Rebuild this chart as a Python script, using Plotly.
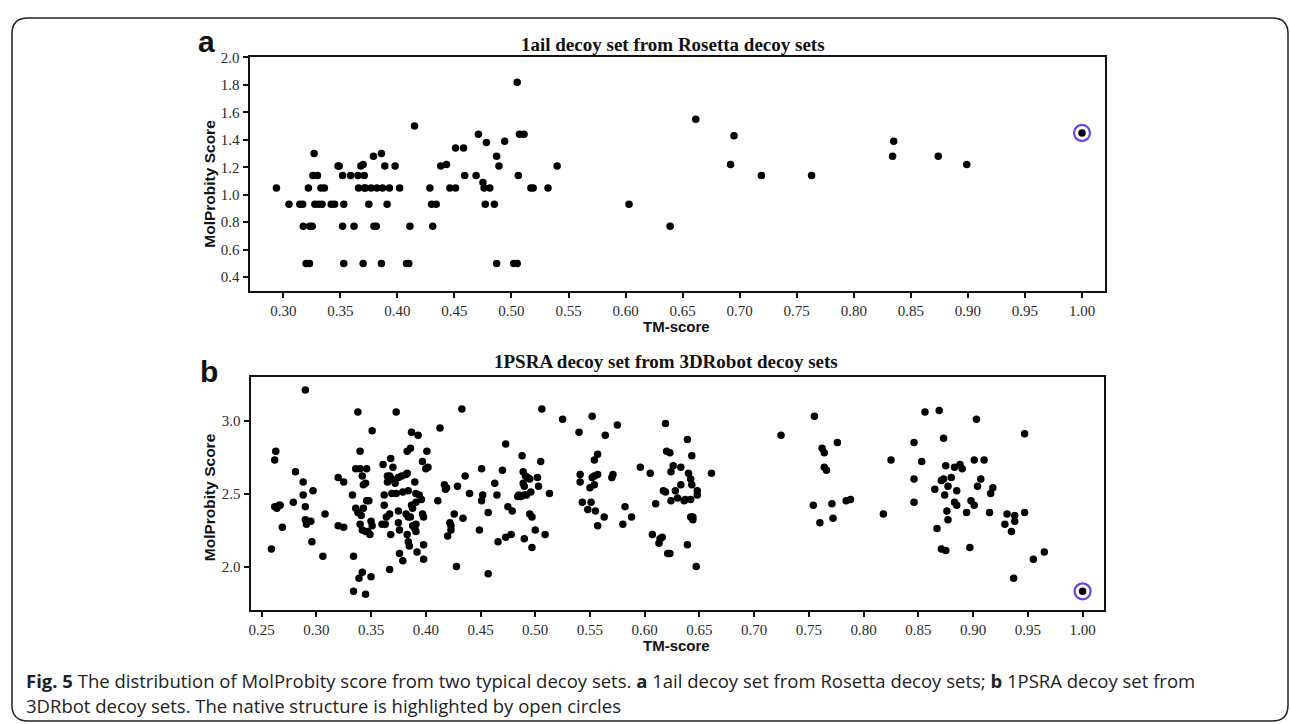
import plotly.graph_objects as go

# ---------------- Panel a data (1ail decoy set, Rosetta) ----------------
a_tm = [0.294, 0.305, 0.3145, 0.317, 0.3175, 0.320, 0.323, 0.322, 0.3233, 0.3253,
        0.327, 0.326, 0.330, 0.3277, 0.331, 0.334, 0.333, 0.336, 0.342, 0.345,
        0.348, 0.349, 0.352, 0.353, 0.352, 0.353, 0.359, 0.362, 0.3655, 0.371,
        0.366, 0.371, 0.372, 0.368, 0.370, 0.370, 0.375, 0.377, 0.379, 0.3795,
        0.3815, 0.382, 0.386, 0.386, 0.387, 0.389, 0.391, 0.393, 0.398, 0.402,
        0.408, 0.410, 0.411, 0.415, 0.4285, 0.430, 0.434, 0.431, 0.438, 0.443,
        0.446, 0.451, 0.451, 0.458, 0.459, 0.469, 0.471, 0.475, 0.476, 0.481,
        0.478, 0.477, 0.485, 0.487, 0.489, 0.487, 0.494, 0.502, 0.505, 0.505,
        0.506, 0.507, 0.511, 0.517, 0.519, 0.532, 0.540,
        0.603, 0.639, 0.6615, 0.695, 0.692, 0.719, 0.763, 0.835, 0.834, 0.874, 0.899]
a_score = [1.05, 0.93, 0.93, 0.93, 0.77, 0.50, 0.50, 1.05, 0.77, 0.77,
           1.30, 1.14, 1.14, 0.93, 0.93, 0.93, 1.05, 1.05, 0.93, 0.93,
           1.21, 1.21, 1.14, 0.93, 0.77, 0.50, 1.14, 0.77, 1.14, 1.14,
           1.05, 1.05, 1.05, 1.21, 1.22, 0.50, 0.93, 1.05, 1.28, 0.77,
           0.77, 1.05, 1.30, 0.50, 1.05, 1.21, 0.93, 1.05, 1.21, 1.05,
           0.50, 0.50, 0.77, 1.50, 1.05, 0.93, 0.93, 0.77, 1.21, 1.22,
           1.05, 1.05, 1.34, 1.34, 1.14, 1.14, 1.44, 1.09, 1.05, 1.05,
           1.38, 0.93, 0.93, 1.28, 1.21, 0.50, 1.39, 0.50, 0.50, 1.82,
           1.14, 1.44, 1.44, 1.05, 1.05, 1.05, 1.21,
           0.93, 0.77, 1.55, 1.43, 1.22, 1.14, 1.14, 1.39, 1.28, 1.28, 1.22]
a_native_tm = [1.00]
a_native_score = [1.45]

# ---------------- Panel b data (1PSRA decoy set, 3DRobot) ----------------
b_tm = [0.259, 0.262, 0.263, 0.262, 0.264, 0.266, 0.267, 0.269, 0.281, 0.279,
        0.288, 0.288, 0.290, 0.290, 0.297, 0.290, 0.292, 0.295, 0.291, 0.296,
        0.306, 0.308, 0.320, 0.325, 0.320, 0.325, 0.333, 0.334, 0.334, 0.338,
        0.336, 0.340, 0.340, 0.336, 0.338, 0.342, 0.343, 0.345, 0.346, 0.340,
        0.343, 0.341, 0.342, 0.345, 0.347, 0.349, 0.346, 0.348, 0.350, 0.351,
        0.351, 0.339, 0.342, 0.350, 0.345, 0.361, 0.362, 0.362, 0.360, 0.363,
        0.364, 0.365, 0.367, 0.365, 0.369, 0.372, 0.368, 0.370, 0.369, 0.373,
        0.373, 0.367, 0.368, 0.367, 0.375, 0.378, 0.375, 0.375, 0.376, 0.376,
        0.379, 0.379, 0.382, 0.383, 0.383, 0.386, 0.384, 0.382, 0.384, 0.383,
        0.384, 0.385, 0.387, 0.393, 0.387, 0.388, 0.388, 0.390, 0.386, 0.390,
        0.391, 0.391, 0.391, 0.391, 0.392, 0.394, 0.396, 0.397, 0.397, 0.398,
        0.398, 0.398, 0.401, 0.400, 0.402, 0.411, 0.413, 0.417, 0.419, 0.418,
        0.420, 0.423, 0.423, 0.422, 0.426, 0.429, 0.428, 0.433, 0.434, 0.436,
        0.440, 0.449, 0.451, 0.451, 0.452, 0.457, 0.457, 0.463, 0.465, 0.466,
        0.470, 0.473, 0.473, 0.478, 0.475, 0.479, 0.485,
        0.488, 0.489, 0.491, 0.493, 0.495, 0.489, 0.490, 0.484, 0.487, 0.490,
        0.492, 0.496, 0.495, 0.497, 0.490, 0.497, 0.500, 0.502, 0.503, 0.505,
        0.506, 0.509, 0.513, 0.525, 0.540, 0.541, 0.541, 0.543, 0.548, 0.551,
        0.555, 0.552, 0.552, 0.554, 0.557, 0.550, 0.554, 0.554, 0.557, 0.557,
        0.564, 0.563, 0.570, 0.571, 0.575, 0.580, 0.582, 0.588, 0.596, 0.605,
        0.607, 0.610, 0.614, 0.616, 0.613, 0.617, 0.619, 0.619, 0.620, 0.623,
        0.621, 0.623, 0.624, 0.626, 0.624, 0.628, 0.630, 0.633, 0.633, 0.636,
        0.637, 0.642, 0.639, 0.640, 0.639, 0.643, 0.642, 0.643, 0.642, 0.644,
        0.644, 0.648, 0.648, 0.647, 0.661, 0.7245,
        0.755, 0.762, 0.764, 0.776, 0.764, 0.766, 0.754, 0.760, 0.771, 0.772,
        0.784, 0.788, 0.818, 0.825, 0.846, 0.853, 0.846, 0.846, 0.856, 0.869,
        0.873, 0.865, 0.867, 0.871, 0.873, 0.875, 0.877, 0.874, 0.876, 0.877,
        0.871, 0.875, 0.880, 0.883, 0.888, 0.890, 0.885, 0.883, 0.885, 0.894,
        0.897, 0.898, 0.901, 0.903, 0.901, 0.904, 0.907, 0.910, 0.915, 0.916,
        0.918, 0.929, 0.931, 0.935, 0.938, 0.938, 0.937, 0.947, 0.947, 0.955,
        0.965]
b_score = [2.12, 2.73, 2.79, 2.41, 2.40, 2.42, 2.42, 2.27, 2.65, 2.44,
           2.58, 2.49, 2.41, 3.21, 2.52, 2.32, 2.31, 2.31, 2.29, 2.17,
           2.07, 2.36, 2.61, 2.58, 2.28, 2.27, 2.49, 2.07, 1.83, 3.06,
           2.67, 2.67, 2.79, 2.40, 2.37, 2.62, 2.56, 2.57, 2.67, 2.29,
           2.40, 2.35, 2.25, 2.24, 2.24, 2.22, 2.45, 2.45, 2.31, 2.28,
           2.93, 1.92, 1.96, 1.93, 1.81, 2.70, 2.49, 2.42, 2.29, 2.29,
           2.34, 2.62, 2.62, 2.58, 2.60, 2.57, 2.74, 2.68, 2.50, 2.50,
           3.06, 2.36, 2.22, 1.98, 2.61, 2.62, 2.38, 2.30, 2.25, 2.09,
           2.04, 2.51, 2.63, 2.64, 2.79, 2.81, 2.52, 2.36, 2.34, 2.22,
           2.17, 2.14, 2.92, 2.90, 2.42, 2.40, 2.28, 2.26, 2.34, 2.58,
           2.44, 2.24, 2.29, 2.50, 2.10, 2.49, 2.46, 2.72, 2.36, 2.34,
           2.15, 2.05, 2.79, 2.67, 2.68, 2.45, 2.95, 2.56, 2.54, 2.53,
           2.21, 2.25, 2.28, 2.30, 2.36, 2.55, 2.00, 3.08, 2.33, 2.62,
           2.50, 2.25, 2.67, 2.45, 2.49, 2.37, 1.95, 2.57, 2.49, 2.17,
           2.66, 2.84, 2.20, 2.22, 2.41, 2.38, 2.49,
           2.76, 2.65, 2.62, 2.61, 2.60, 2.57, 2.55, 2.48, 2.48, 2.49,
           2.49, 2.51, 2.36, 2.34, 2.19, 2.13, 2.25, 2.61, 2.55, 2.72,
           3.08, 2.22, 2.50, 3.01, 2.92, 2.63, 2.58, 2.44, 2.39, 2.44,
           2.38, 3.03, 2.61, 2.62, 2.63, 2.54, 2.56, 2.73, 2.77, 2.28,
           2.90, 2.34, 2.61, 2.63, 2.97, 2.29, 2.41, 2.34, 2.68, 2.64,
           2.22, 2.43, 2.19, 2.20, 2.16, 2.52, 2.51, 2.98, 2.79, 2.78,
           2.09, 2.09, 2.65, 2.69, 2.45, 2.52, 2.47, 2.56, 2.68, 2.45,
           2.46, 2.46, 2.87, 2.64, 2.15, 2.76, 2.60, 2.56, 2.34, 2.32,
           2.34, 2.52, 2.49, 2.00, 2.64, 2.90,
           3.03, 2.81, 2.78, 2.85, 2.68, 2.66, 2.42, 2.30, 2.43, 2.33,
           2.45, 2.46, 2.36, 2.73, 2.85, 2.72, 2.60, 2.44, 3.06, 3.07,
           2.88, 2.53, 2.26, 2.59, 2.60, 2.69, 2.55, 2.49, 2.38, 2.32,
           2.12, 2.11, 2.61, 2.68, 2.70, 2.67, 2.52, 2.44, 2.42, 2.37,
           2.13, 2.45, 2.73, 3.01, 2.42, 2.55, 2.60, 2.73, 2.37, 2.50,
           2.54, 2.29, 2.36, 2.24, 2.35, 2.31, 1.92, 2.91, 2.37, 2.05,
           2.10]
b_native_tm = [1.00]
b_native_score = [1.83]

# ---------------- Axis / text definitions ----------------
a_xticks = [0.30, 0.35, 0.40, 0.45, 0.50, 0.55, 0.60, 0.65, 0.70, 0.75, 0.80, 0.85, 0.90, 0.95, 1.00]
a_yticks = [0.4, 0.6, 0.8, 1.0, 1.2, 1.4, 1.6, 1.8, 2.0]
b_xticks = [0.25, 0.30, 0.35, 0.40, 0.45, 0.50, 0.55, 0.60, 0.65, 0.70, 0.75, 0.80, 0.85, 0.90, 0.95, 1.00]
b_yticks = [2.0, 2.5, 3.0]
title_a = "1ail decoy set from Rosetta decoy sets"
title_b = "1PSRA decoy set from 3DRobot decoy sets"
x_title = "TM-score"
y_title = "MolProbity Score"
caption1 = ("<b>Fig. 5</b> The distribution of MolProbity score from two typical decoy sets. "
            "<b>a</b> 1ail decoy set from Rosetta decoy sets; <b>b</b> 1PSRA decoy set from")
caption2 = "3DRbot decoy sets. The native structure is highlighted by open circles"

W, H = 1290, 724
DOT = dict(color="black", size=7.5, line=dict(width=0))
RING = dict(color="#6a3ff0", size=16, symbol="circle-open", line=dict(width=2.2, color="#6a3ff0"))

fig = go.Figure()
fig.add_trace(go.Scatter(x=a_tm, y=a_score, mode="markers", marker=DOT, xaxis="x", yaxis="y", showlegend=False))
fig.add_trace(go.Scatter(x=a_native_tm, y=a_native_score, mode="markers", marker=DOT, xaxis="x", yaxis="y", showlegend=False))
fig.add_trace(go.Scatter(x=a_native_tm, y=a_native_score, mode="markers", marker=RING, xaxis="x", yaxis="y", showlegend=False))
fig.add_trace(go.Scatter(x=b_tm, y=b_score, mode="markers", marker=DOT, xaxis="x2", yaxis="y2", showlegend=False))
fig.add_trace(go.Scatter(x=b_native_tm, y=b_native_score, mode="markers", marker=DOT, xaxis="x2", yaxis="y2", showlegend=False))
fig.add_trace(go.Scatter(x=b_native_tm, y=b_native_score, mode="markers", marker=RING, xaxis="x2", yaxis="y2", showlegend=False))

TICKFONT = dict(family="Liberation Serif, Times New Roman, serif", size=15, color="#2a2a2a")
common = dict(showgrid=False, zeroline=False, showline=True, linecolor="#111", linewidth=2,
              mirror=True, ticks="outside", ticklen=5, tickwidth=1.5, tickcolor="#111",
              tickfont=TICKFONT, fixedrange=True)

def px_x(p):
    return p / W

def px_y(p):
    return 1 - p / H

fig.update_layout(
    width=W, height=H, margin=dict(l=0, r=0, t=0, b=0),
    paper_bgcolor="white", plot_bgcolor="white",
    xaxis=dict(domain=[px_x(248), px_x(1105)], range=[0.2705, 1.0204], anchor="y",
               tickvals=a_xticks, ticktext=[f"{v:.2f}" for v in a_xticks], **common),
    yaxis=dict(domain=[px_y(286), px_y(50)], range=[0.30, 2.0], anchor="x",
               tickvals=a_yticks, ticktext=[f"{v:.1f}" for v in a_yticks], **common),
    xaxis2=dict(domain=[px_x(249), px_x(1104)], range=[0.240, 1.0198], anchor="y2",
                tickvals=b_xticks, ticktext=[f"{v:.2f}" for v in b_xticks], **common),
    yaxis2=dict(domain=[px_y(609), px_y(373)], range=[1.70, 3.30], anchor="x2",
                tickvals=b_yticks, ticktext=[f"{v:.1f}" for v in b_yticks], **common),
)

SERIF_B = dict(family="Liberation Serif, Times New Roman, serif", size=19, color="#111")
SANS_B = dict(family="Liberation Sans, Arial, sans-serif", size=15.5, color="#111")
SANS_X = dict(family="Liberation Sans, Arial, sans-serif", size=15, color="#111")
LETTER = dict(family="Liberation Sans, Arial, sans-serif", size=30, color="#111")
CAP = dict(family="Open Sans, sans-serif", size=18.5, color="#222")

def ann(text, x, y, font, xanchor="center", yanchor="middle", angle=0):
    fig.add_annotation(text=text, x=px_x(x), y=px_y(y), xref="paper", yref="paper",
                       showarrow=False, font=font, xanchor=xanchor, yanchor=yanchor,
                       textangle=angle)

ann(f"<b>{title_a}</b>", 672, 37, SERIF_B)
ann(f"<b>{title_b}</b>", 665, 357, SERIF_B)
ann("<b>a</b>", 205, 34, LETTER)
ann("<b>b</b>", 207, 368, LETTER)
ann(f"<b>{y_title}</b>", 207, 178, SANS_B, angle=-90)
ann(f"<b>{y_title}</b>", 208, 495, SANS_B, angle=-90)
ann(f"<b>{x_title}</b>", 676, 322, SANS_X)
ann(f"<b>{x_title}</b>", 676, 645, SANS_X)
ann(caption1, 22, 680, CAP, xanchor="left")
ann(caption2, 22, 705, CAP, xanchor="left")

# outer rounded frame
r = 16
x0, y0, x1, y1 = 10, 10, 1288, 721
def P(x, y):
    return f"{px_x(x):.5f},{px_y(y):.5f}"
path = (f"M {P(x0 + r, y0)} L {P(x1 - r, y0)} Q {P(x1, y0)} {P(x1, y0 + r)} "
        f"L {P(x1, y1 - r)} Q {P(x1, y1)} {P(x1 - r, y1)} "
        f"L {P(x0 + r, y1)} Q {P(x0, y1)} {P(x0, y1 - r)} "
        f"L {P(x0, y0 + r)} Q {P(x0, y0)} {P(x0 + r, y0)} Z")
fig.add_shape(type="path", path=path, xref="paper", yref="paper",
              line=dict(color="#222", width=1.5), fillcolor="rgba(0,0,0,0)")

fig.write_html("out.html")
